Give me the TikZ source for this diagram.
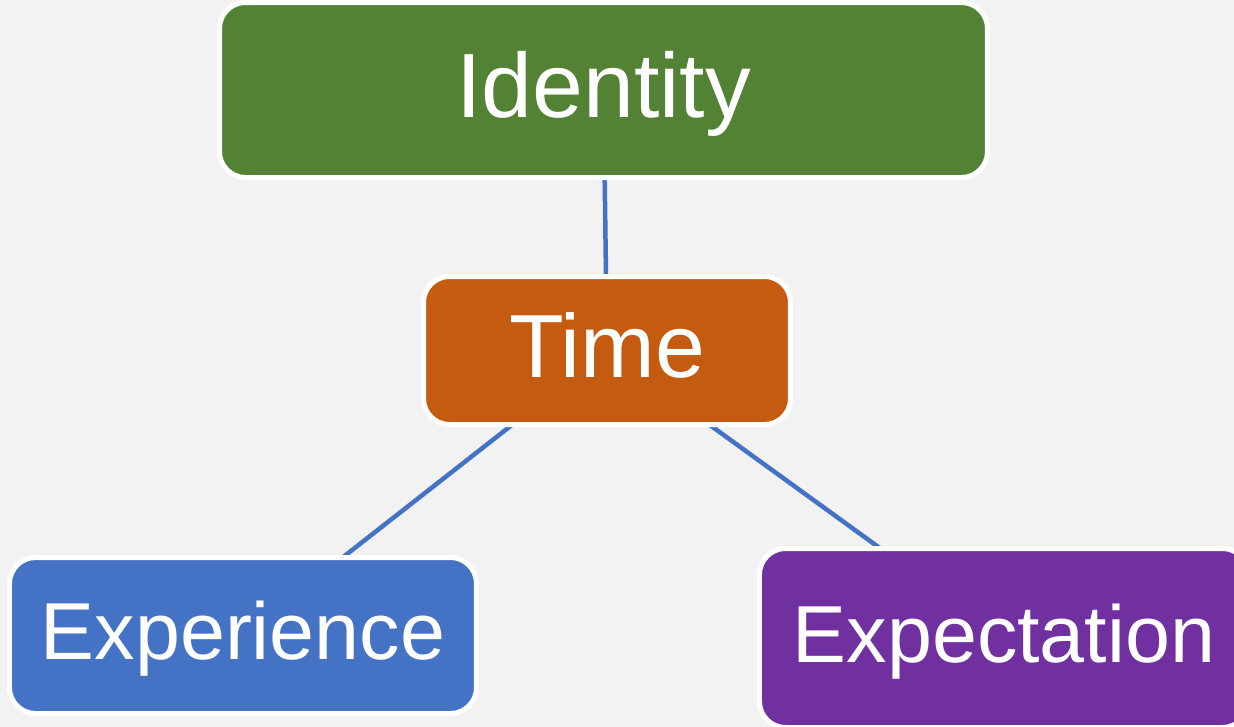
\documentclass[tikz,border=0pt]{standalone}
\usepackage{fontspec}
\setmainfont{Liberation Sans}
\usetikzlibrary{positioning,backgrounds}

\definecolor{bggray}{HTML}{F2F2F2}
\definecolor{idgreen}{HTML}{548235}
\definecolor{timeorange}{HTML}{C55A11}
\definecolor{expblue}{HTML}{4472C4}
\definecolor{exppurple}{HTML}{7030A0}

\tikzset{
	box/.style={draw=white, line width=0.05cm, rounded corners=0.26cm,
		text=white, inner sep=0pt, align=center},
	bigtext/.style={font=\fontsize{26}{30}\selectfont, text height=20.8pt, text depth=5.2pt},
	midtext/.style={font=\fontsize{25.5}{29}\selectfont, text height=20.4pt, text depth=5.1pt},
	smalltext/.style={font=\fontsize{23}{27}\selectfont, text height=18.4pt, text depth=4.6pt},
	link/.style={draw=expblue, line width=0.045cm}
}

\begin{document}
\begin{tikzpicture}
	\clip (0,0) rectangle (12.34,-7.27);
	% boxes
	\node[box, bigtext, fill=idgreen, minimum width=7.68cm, minimum height=1.75cm]
		(identity) at (6.035,-0.90) {Identity};
	\node[box, midtext, fill=timeorange, minimum width=3.67cm, minimum height=1.48cm]
		(time) at (6.07,-3.505) {Time};
	\node[box, smalltext, fill=expblue, minimum width=4.67cm, minimum height=1.56cm]
		(experience) at (2.43,-6.355) {Experience};
	\node[box, smalltext, fill=exppurple, minimum width=4.89cm, minimum height=1.79cm]
		(expectation) at (10.04,-6.38) {Expectation};
	% links behind the boxes
	\begin{pgfonlayer}{background}
		\fill[bggray] (0,0) rectangle (12.34,-7.27);
		\draw[link] (identity) -- (time);
		\draw[link] (time.center) -- (experience.center);
		\draw[link] (time.center) -- (expectation.center);
	\end{pgfonlayer}
\end{tikzpicture}
\end{document}
